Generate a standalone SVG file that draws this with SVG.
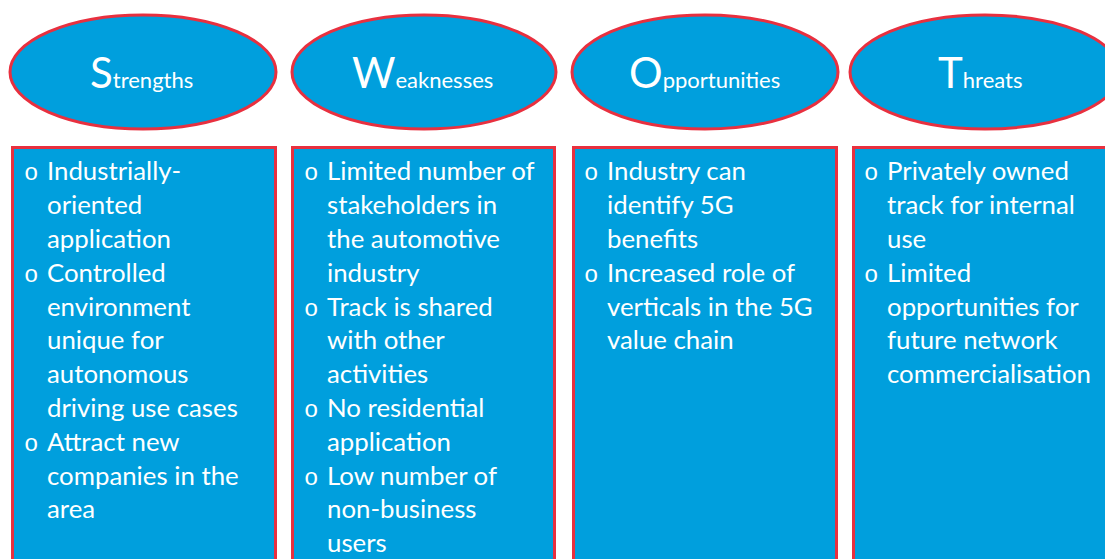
<svg xmlns="http://www.w3.org/2000/svg" width="1105" height="559" viewBox="0 0 1105 559">
<style>
.shape{fill:#009fdd;stroke:#e8303f;stroke-width:3}
.t{font-family:Lato,"Open Sans",sans-serif;font-size:25.8px;fill:#ffffff}
.h{font-family:Lato,"Open Sans",sans-serif;font-size:22px;fill:#ffffff}
.big{font-size:42px}
.b{font-family:"Liberation Mono",monospace;font-size:24px}
</style>
<rect width="1105" height="559" fill="#ffffff"/>
<g id="strengths-head"><ellipse class="shape" cx="143" cy="72" rx="133" ry="57"/><text class="h" x="90" y="88"><tspan class="big">S</tspan>trengths</text></g>
<g id="weaknesses-head"><ellipse class="shape" cx="424" cy="72" rx="132" ry="57"/><text class="h" x="352" y="88"><tspan class="big">W</tspan>eaknesses</text></g>
<g id="opportunities-head"><ellipse class="shape" cx="705" cy="72" rx="133" ry="57"/><text class="h" x="629" y="88"><tspan class="big">O</tspan>pportunities</text></g>
<g id="threats-head"><ellipse class="shape" cx="985" cy="72" rx="135" ry="57"/><text class="h" x="938" y="88"><tspan class="big">T</tspan>hreats</text></g>

<g id="strengths-box"><rect class="shape" x="12.5" y="147.5" width="263" height="420"/>
<text class="t"><tspan class="b" x="24" y="180">o</tspan><tspan x="47" y="180">Industrially-</tspan><tspan x="47" y="214">oriented</tspan><tspan x="47" y="248">application</tspan><tspan class="b" x="24" y="282">o</tspan><tspan x="47" y="282">Controlled</tspan><tspan x="47" y="315.5">environment</tspan><tspan x="47" y="349">unique for</tspan><tspan x="47" y="383">autonomous</tspan><tspan x="47" y="417">driving use cases</tspan><tspan class="b" x="24" y="451">o</tspan><tspan x="47" y="451">Attract new</tspan><tspan x="47" y="485">companies in the</tspan><tspan x="47" y="518">area</tspan></text></g>

<g id="weaknesses-box"><rect class="shape" x="292.5" y="147.5" width="262" height="420"/>
<text class="t"><tspan class="b" x="304" y="180">o</tspan><tspan x="327" y="180">Limited number of</tspan><tspan x="327" y="214">stakeholders in</tspan><tspan x="327" y="248">the automotive</tspan><tspan x="327" y="282">industry</tspan><tspan class="b" x="304" y="315.5">o</tspan><tspan x="327" y="315.5">Track is shared</tspan><tspan x="327" y="349">with other</tspan><tspan x="327" y="383">activities</tspan><tspan class="b" x="304" y="417">o</tspan><tspan x="327" y="417">No residential</tspan><tspan x="327" y="451">application</tspan><tspan class="b" x="304" y="485">o</tspan><tspan x="327" y="485">Low number of</tspan><tspan x="327" y="518">non-business</tspan><tspan x="327" y="552">users</tspan></text></g>

<g id="opportunities-box"><rect class="shape" x="573.5" y="147.5" width="263" height="420"/>
<text class="t"><tspan class="b" x="584" y="180">o</tspan><tspan x="607" y="180">Industry can</tspan><tspan x="607" y="214">identify 5G</tspan><tspan x="607" y="248">benefits</tspan><tspan class="b" x="584" y="282">o</tspan><tspan x="607" y="282">Increased role of</tspan><tspan x="607" y="315.5">verticals in the 5G</tspan><tspan x="607" y="349">value chain</tspan></text></g>

<g id="threats-box"><rect class="shape" x="853.5" y="147.5" width="263" height="420"/>
<text class="t"><tspan class="b" x="864" y="180">o</tspan><tspan x="887" y="180">Privately owned</tspan><tspan x="887" y="214">track for internal</tspan><tspan x="887" y="248">use</tspan><tspan class="b" x="864" y="282">o</tspan><tspan x="887" y="282">Limited</tspan><tspan x="887" y="315.5">opportunities for</tspan><tspan x="887" y="349">future network</tspan><tspan x="887" y="383">commercialisation</tspan></text></g>

<g id="connectors"/>
</svg>
